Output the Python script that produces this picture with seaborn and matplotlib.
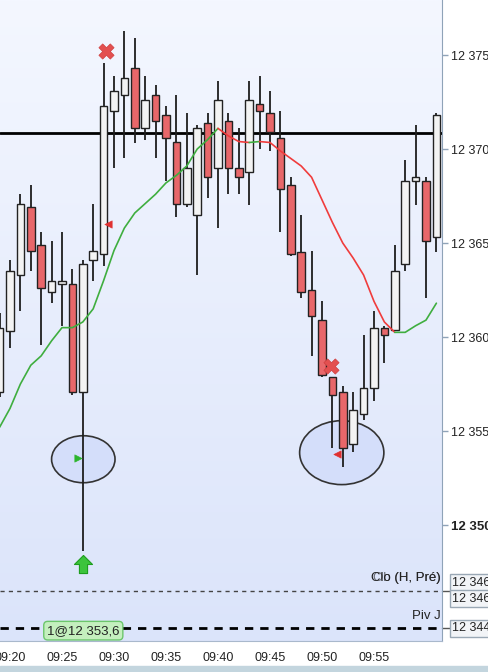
import numpy as np
import pandas as pd
import matplotlib
import matplotlib.pyplot as plt
import seaborn as sns
from matplotlib.patches import Ellipse, Rectangle
from matplotlib.path import Path

matplotlib.use("Agg")

# minutes after 09:00, one candle per minute
minutes = list(range(19, 62))
opens = [12357.1, 12360.3, 12363.3, 12366.9, 12364.9, 12362.4, 12362.8, 12362.8, 12357.1, 12364.1,
         12364.4, 12372.0, 12372.9, 12374.3, 12371.1, 12372.9, 12371.8, 12370.4, 12367.1, 12366.5,
         12371.4, 12369.0, 12371.5, 12369.0, 12368.8, 12372.4, 12371.9, 12370.6, 12368.1, 12364.5,
         12362.5, 12360.9, 12357.9, 12357.1, 12354.3, 12355.9, 12357.3, 12360.5, 12360.4, 12363.9,
         12368.3, 12368.3, 12365.3]
highs = [12361.3, 12364.1, 12367.6, 12368.1, 12365.6, 12365.1, 12365.6, 12363.6, 12364.1, 12367.1,
         12374.6, 12373.9, 12376.3, 12375.9, 12373.9, 12373.4, 12372.3, 12372.9, 12371.9, 12371.3,
         12371.9, 12373.6, 12371.9, 12371.1, 12373.6, 12373.9, 12373.1, 12372.0, 12368.5, 12366.5,
         12364.6, 12361.9, 12357.9, 12357.4, 12357.1, 12360.1, 12361.4, 12360.6, 12364.9, 12369.4,
         12371.3, 12368.5, 12371.9]
lows = [12356.8, 12359.4, 12361.4, 12363.5, 12359.6, 12361.8, 12360.6, 12356.9, 12348.6, 12363.0,
        12363.8, 12369.0, 12369.5, 12370.3, 12370.5, 12369.5, 12368.3, 12366.4, 12366.9, 12363.3,
        12367.4, 12365.8, 12367.6, 12367.6, 12367.0, 12370.0, 12369.9, 12365.6, 12364.3, 12362.1,
        12359.0, 12357.9, 12354.1, 12353.1, 12353.9, 12355.6, 12356.6, 12358.6, 12360.3, 12363.5,
        12367.0, 12362.1, 12364.5]
closes = [12360.5, 12363.5, 12367.1, 12364.6, 12362.6, 12363.0, 12363.0, 12357.1, 12363.9, 12364.6,
          12372.3, 12373.1, 12373.8, 12371.1, 12372.6, 12371.5, 12370.6, 12367.1, 12369.0, 12371.1,
          12368.5, 12372.6, 12369.0, 12368.5, 12372.6, 12372.0, 12370.9, 12367.9, 12364.4, 12362.4,
          12361.1, 12358.0, 12356.9, 12354.1, 12356.1, 12357.3, 12360.5, 12360.1, 12363.5, 12368.3,
          12368.5, 12365.1, 12371.8]
moving_avg = [12355.2, 12356.2, 12357.5, 12358.5, 12359.0, 12359.8, 12360.5, 12360.5, 12360.8, 12361.5,
              12363.0, 12364.6, 12365.8, 12366.6, 12367.1, 12367.6, 12368.2, 12368.6, 12369.1, 12370.0,
              12370.5, 12371.1, 12370.7, 12370.4, 12370.35, 12370.4, 12370.35, 12369.9, 12369.5, 12369.1,
              12368.5, 12367.3, 12366.1, 12365.0, 12364.2, 12363.3, 12361.9, 12360.8, 12360.25, 12360.25,
              12360.6, 12360.9, 12361.8]

ref_level = 12370.85
close_prev_level = 12346.49
pivot_level = 12344.51
ytick_values = [12375, 12370, 12365, 12360, 12355, 12350]
ytick_labels = ["12 375", "12 370", "12 365", "12 360", "12 355", "12 350"]
xtick_values = [20, 25, 30, 35, 40, 45, 50, 55]
xtick_labels = ["09:20", "09:25", "09:30", "09:35", "09:40", "09:45", "09:50", "09:55"]
level_box_labels = ["12 346", "12 346", "12 344"]

sell_marks_x = [29.2, 50.9]
sell_marks_y = [12375.2, 12358.45]
exit_marks_x = [29.4, 51.45]
exit_marks_y = [12366.0, 12353.8]
entry_mark_x = [26.55]
entry_mark_y = [12353.55]
arrow_x = [27.0]
arrow_y = [12347.9]
ellipse_centers = [(27.05, 12353.5), (51.9, 12353.85)]
ellipse_sizes = [(6.1, 2.5), (8.1, 3.4)]
order_label = "1@12 353,6"

sns.set_style("white")
plt.rcParams['font.family'] = ['Liberation Sans', 'DejaVu Sans']

df = pd.DataFrame({"t": minutes, "o": opens, "h": highs, "l": lows, "c": closes, "ma": moving_avg})

fig = plt.figure(figsize=(4.88, 6.72), dpi=100)
ax = fig.add_axes([0, 31 / 672, 442 / 488, 641 / 672])
ax.set_xlim(19.04, 61.54)
ax.set_ylim(12343.83, 12377.93)

# background gradient, light at the top
grad = np.linspace(0, 1, 256).reshape(-1, 1)
cmap = matplotlib.colors.LinearSegmentedColormap.from_list("bg", ["#f4f7ff", "#dbe4fa"])
ax.imshow(grad, extent=[0, 1, 0, 1], origin="upper", transform=ax.transAxes, aspect="auto",
          cmap=cmap, zorder=0)

# bottom scroll strip
fig.patches.append(Rectangle((0, 0), 1, 6 / 672, transform=fig.transFigure, color="#c3d5de", zorder=0))

# horizontal levels
ax.axhline(ref_level, color="black", lw=2, zorder=2)
ax.axhline(close_prev_level, color="#444444", lw=1, ls=(0, (3, 3)), zorder=2)
ax.axhline(pivot_level, color="black", lw=2, ls=(0, (3, 2.5)), zorder=2)

# ellipses
for (cx, cy), (w, h) in zip(ellipse_centers, ellipse_sizes):
    ax.add_patch(Ellipse((cx, cy), w, h, facecolor="#d4defa", edgecolor="#333333", lw=1.2, zorder=1))

# candles
up = df["c"] >= df["o"]
ax.vlines(df["t"], df["l"], df["h"], color="#1e1e1e", lw=1.3, zorder=3)
body_lo = np.minimum(df["o"], df["c"])
body_h = np.maximum(np.abs(df["c"] - df["o"]), 0.15)
colors = np.where(up, "#f3f3f3", "#e8676a")
ax.bar(df["t"], body_h, bottom=body_lo, width=0.72, color=colors, edgecolor="#222222", lw=1, zorder=4)

# moving average, green when rising, red when falling
trend = np.sign(np.diff(df["ma"]))
seg_color = ["#3fae3f" if s >= 0 else "#f03c3c" for s in trend]
start = 0
for i in range(1, len(seg_color) + 1):
    if i == len(seg_color) or seg_color[i] != seg_color[start]:
        part = df.iloc[start:i + 1]
        sns.lineplot(x=part["t"], y=part["ma"], ax=ax, color=seg_color[start], lw=1.2,
                     sort=False, estimator=None, zorder=5)
        start = i

# trade markers
sns.scatterplot(x=sell_marks_x, y=sell_marks_y, ax=ax, marker="X", s=120, color="#e35050",
                edgecolor="#d04040", linewidth=0.5, zorder=6)
sns.scatterplot(x=exit_marks_x, y=exit_marks_y, ax=ax, marker="<", s=28, color="#e03030",
                edgecolor="#e03030", zorder=6)
sns.scatterplot(x=entry_mark_x, y=entry_mark_y, ax=ax, marker=">", s=28, color="#2cb52c",
                edgecolor="#2cb52c", zorder=6)
arrow_path = Path([(0, 1), (1, 0), (0.45, 0), (0.45, -1), (-0.45, -1), (-0.45, 0), (-1, 0), (0, 1)])
sns.scatterplot(x=arrow_x, y=arrow_y, ax=ax, marker=arrow_path, s=170, color="#3cc43c",
                edgecolor="#1e9e1e", linewidth=0.8, zorder=6)

# labels on levels
ax.text(0.997, close_prev_level + 0.35, "Clo (H, Pré)", transform=ax.get_yaxis_transform(),
        ha="right", va="bottom", fontsize=9.5, color="#222222", zorder=7)
ax.text(0.997, close_prev_level + 0.35, "Ob (H, Pré)", transform=ax.get_yaxis_transform(),
        ha="right", va="bottom", fontsize=9.5, color="#222222", alpha=0.6, zorder=7)
ax.text(0.997, pivot_level + 0.35, "Piv J", transform=ax.get_yaxis_transform(),
        ha="right", va="bottom", fontsize=9.5, color="#222222", zorder=7)
ax.text(27.05, 12343.83 + 0.55, order_label, ha="center", va="center", fontsize=9.5, color="#222222",
        bbox=dict(boxstyle="round,pad=0.25,rounding_size=0.3", facecolor="#c4efbe", edgecolor="#6cc66c", lw=1),
        zorder=7)

# axes styling
ax.yaxis.tick_right()
ax.set_yticks(ytick_values)
ax.set_yticklabels(ytick_labels)
ax.set_xticks(xtick_values)
ax.set_xticklabels(xtick_labels)
ax.tick_params(axis="y", length=4, width=1, color="#8fa3b8", pad=2.5, labelsize=9, labelcolor="#222222")
ax.tick_params(axis="x", length=4, width=1, color="#a9b8cc", pad=4, labelsize=9, labelcolor="#222222")
ax.get_yticklabels()[-1].set_fontweight("bold")
ax.get_yticklabels()[-1].set_fontsize(9.5)
for side in ["top", "left"]:
    ax.spines[side].set_visible(False)
ax.spines["right"].set_color("#8fa3b8")
ax.spines["bottom"].set_color("#a9b8cc")
ax.set_xlabel("")
ax.set_ylabel("")

# boxed level values on the right
box_levels = [close_prev_level + 0.45, close_prev_level - 0.4, pivot_level]
for lvl, txt in zip(box_levels, level_box_labels):
    ax.text(1.023, lvl, txt, transform=ax.get_yaxis_transform(), ha="left", va="center",
            fontsize=9, color="#222222", clip_on=False,
            bbox=dict(boxstyle="square,pad=0.2", facecolor="#f2f4f7", edgecolor="#9aa8b5", lw=1))
for lvl in [close_prev_level, pivot_level]:
    ax.plot([1.0, 1.023], [lvl, lvl], transform=ax.get_yaxis_transform(), color="#555555", lw=1, clip_on=False)

fig.savefig("out.png", dpi=100)
